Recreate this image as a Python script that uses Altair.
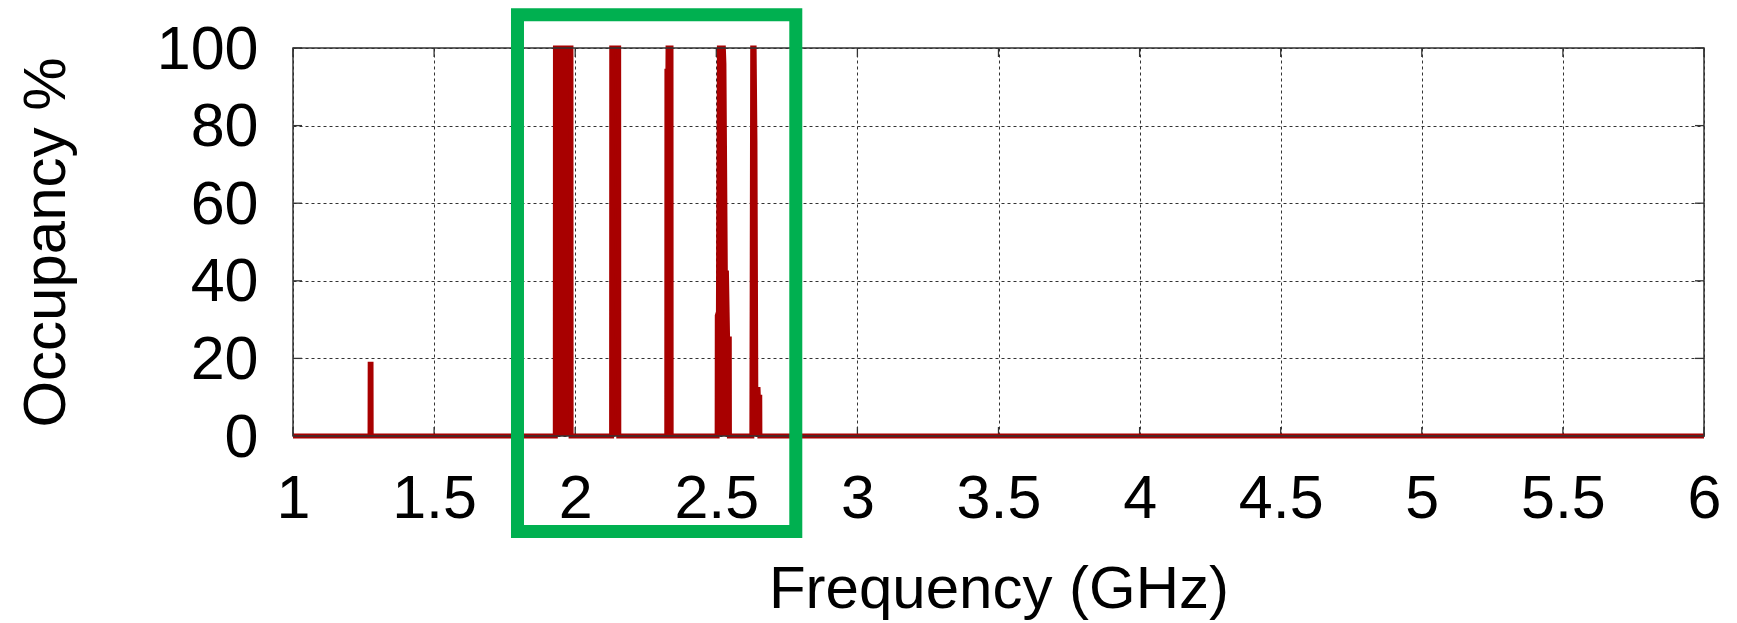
import altair as alt
import pandas as pd

# ---- data ----
freq_ghz = [
    1.000, 1.2730, 1.2735, 1.2765, 1.2770,
    1.9295, 1.9300, 1.9850, 1.9855,
    2.1290, 2.1295, 2.1540, 2.1545,
    2.3245, 2.3250, 2.3285, 2.3290, 2.3395, 2.3400,
    2.5030, 2.5035, 2.5075, 2.5110, 2.5250, 2.5270, 2.5320, 2.5360, 2.5400, 2.5460, 2.5465,
    2.6260, 2.6290, 2.6340, 2.6370, 2.6400, 2.6480, 2.6490, 2.6540, 2.6545,
    6.000,
]
occupancy = [
    0, 0, 18.5, 18.5, 0,
    0, 100, 100, 0,
    0, 100, 100, 0,
    0, 94, 94, 100, 100, 0,
    0, 31, 32, 100, 100, 96, 42, 42, 25, 25, 0,
    0, 100, 100, 76, 12, 12, 10, 10, 0,
    0,
]
x_ticks = [1, 1.5, 2, 2.5, 3, 3.5, 4, 4.5, 5, 5.5, 6]
y_ticks = [0, 20, 40, 60, 80, 100]
box_x = [1.7955, 2.7817]      # highlighted band (GHz)
box_y = [-24.6, 108.55]       # highlighted band (occupancy units)

RED = "#a80000"
GREEN = "#00b050"
FONT = "Liberation Sans"
W, H = 1411, 388

df = pd.DataFrame({"freq": freq_ghz, "occ": occupancy, "idx": list(range(len(freq_ghz)))})
xt = pd.DataFrame({"t": x_ticks})
yt = pd.DataFrame({"t": y_ticks})
box = pd.DataFrame({"x0": [box_x[0]], "x1": [box_x[1]], "y0": [box_y[0]], "y1": [box_y[1]]})
one = pd.DataFrame({"a": [0]})

xscale = alt.Scale(domain=[1, 6], nice=False, zero=False)
yscale = alt.Scale(domain=[0, 100], nice=False)

xaxis = alt.Axis(
    values=x_ticks, labelExpr="datum.value + ''", labelFlush=False,
    grid=True, gridDash=[3, 3], gridColor="#333", gridWidth=1,
    ticks=False, tickSize=0, domain=False,
    labelFont=FONT, labelFontSize=61, labelColor="black", labelPadding=33,
    title="Frequency (GHz)", titleFont=FONT, titleFontSize=60, titleFontWeight="normal",
    titleColor="black", titleBaseline="alphabetic", titleX=W / 2, titleY=171, titleAlign="center",
)
yaxis = alt.Axis(
    values=y_ticks, labelExpr="datum.value + ''", labelFlush=False,
    grid=True, gridDash=[3, 3], gridColor="#333", gridWidth=1,
    ticks=False, tickSize=0, domain=False,
    labelFont=FONT, labelFontSize=61, labelColor="black", labelPadding=35, labelOffset=2,
    title="Occupancy %", titleFont=FONT, titleFontSize=60, titleFontWeight="normal",
    titleColor="black", titleAngle=270, titleBaseline="alphabetic", titleAlign="center",
    titleX=-229, titleY=H / 2,
)

base = alt.Chart(df)
area = base.mark_area(fill=RED, fillOpacity=1, opacity=1, orient="vertical",
                      interpolate="linear", clip=False).encode(
    x=alt.X("freq:Q", scale=xscale, axis=xaxis),
    y=alt.Y("occ:Q", scale=yscale, axis=yaxis, stack=None),
)
line = base.mark_line(color=RED, strokeWidth=5, strokeJoin="miter", strokeMiterLimit=2,
                      strokeCap="butt", clip=False).encode(
    x="freq:Q", y="occ:Q", order="idx:Q",
)

border = alt.Chart(one).mark_rect(fillOpacity=0, stroke="#333", strokeWidth=1.5).encode(
    x=alt.value(0), x2=alt.value(W), y=alt.value(0), y2=alt.value(H)
)
tick_len = 9
tb = alt.Chart(xt).mark_rule(color="#333", strokeWidth=1.3).encode(
    x="t:Q", y=alt.value(H), y2=alt.value(H - tick_len))
tt = alt.Chart(xt).mark_rule(color="#333", strokeWidth=1.3).encode(
    x="t:Q", y=alt.value(0), y2=alt.value(tick_len))
tl = alt.Chart(yt).mark_rule(color="#333", strokeWidth=1.3).encode(
    y="t:Q", x=alt.value(0), x2=alt.value(tick_len))
tr = alt.Chart(yt).mark_rule(color="#333", strokeWidth=1.3).encode(
    y="t:Q", x=alt.value(W), x2=alt.value(W - tick_len))

green = alt.Chart(box).mark_rect(fillOpacity=0, stroke=GREEN, strokeWidth=13, clip=False).encode(
    x="x0:Q", x2="x1:Q", y="y0:Q", y2="y1:Q"
)

chart = alt.layer(tb, tt, tl, tr, area, line, border, green).properties(
    width=W, height=H,
    autosize=alt.AutoSizeParams(type="none"),
    padding={"left": 285, "top": 40, "right": 25, "bottom": 186},
    background="white",
).configure_view(stroke=None)

chart.save("out.html", embed_options={"renderer": "svg", "actions": False})
